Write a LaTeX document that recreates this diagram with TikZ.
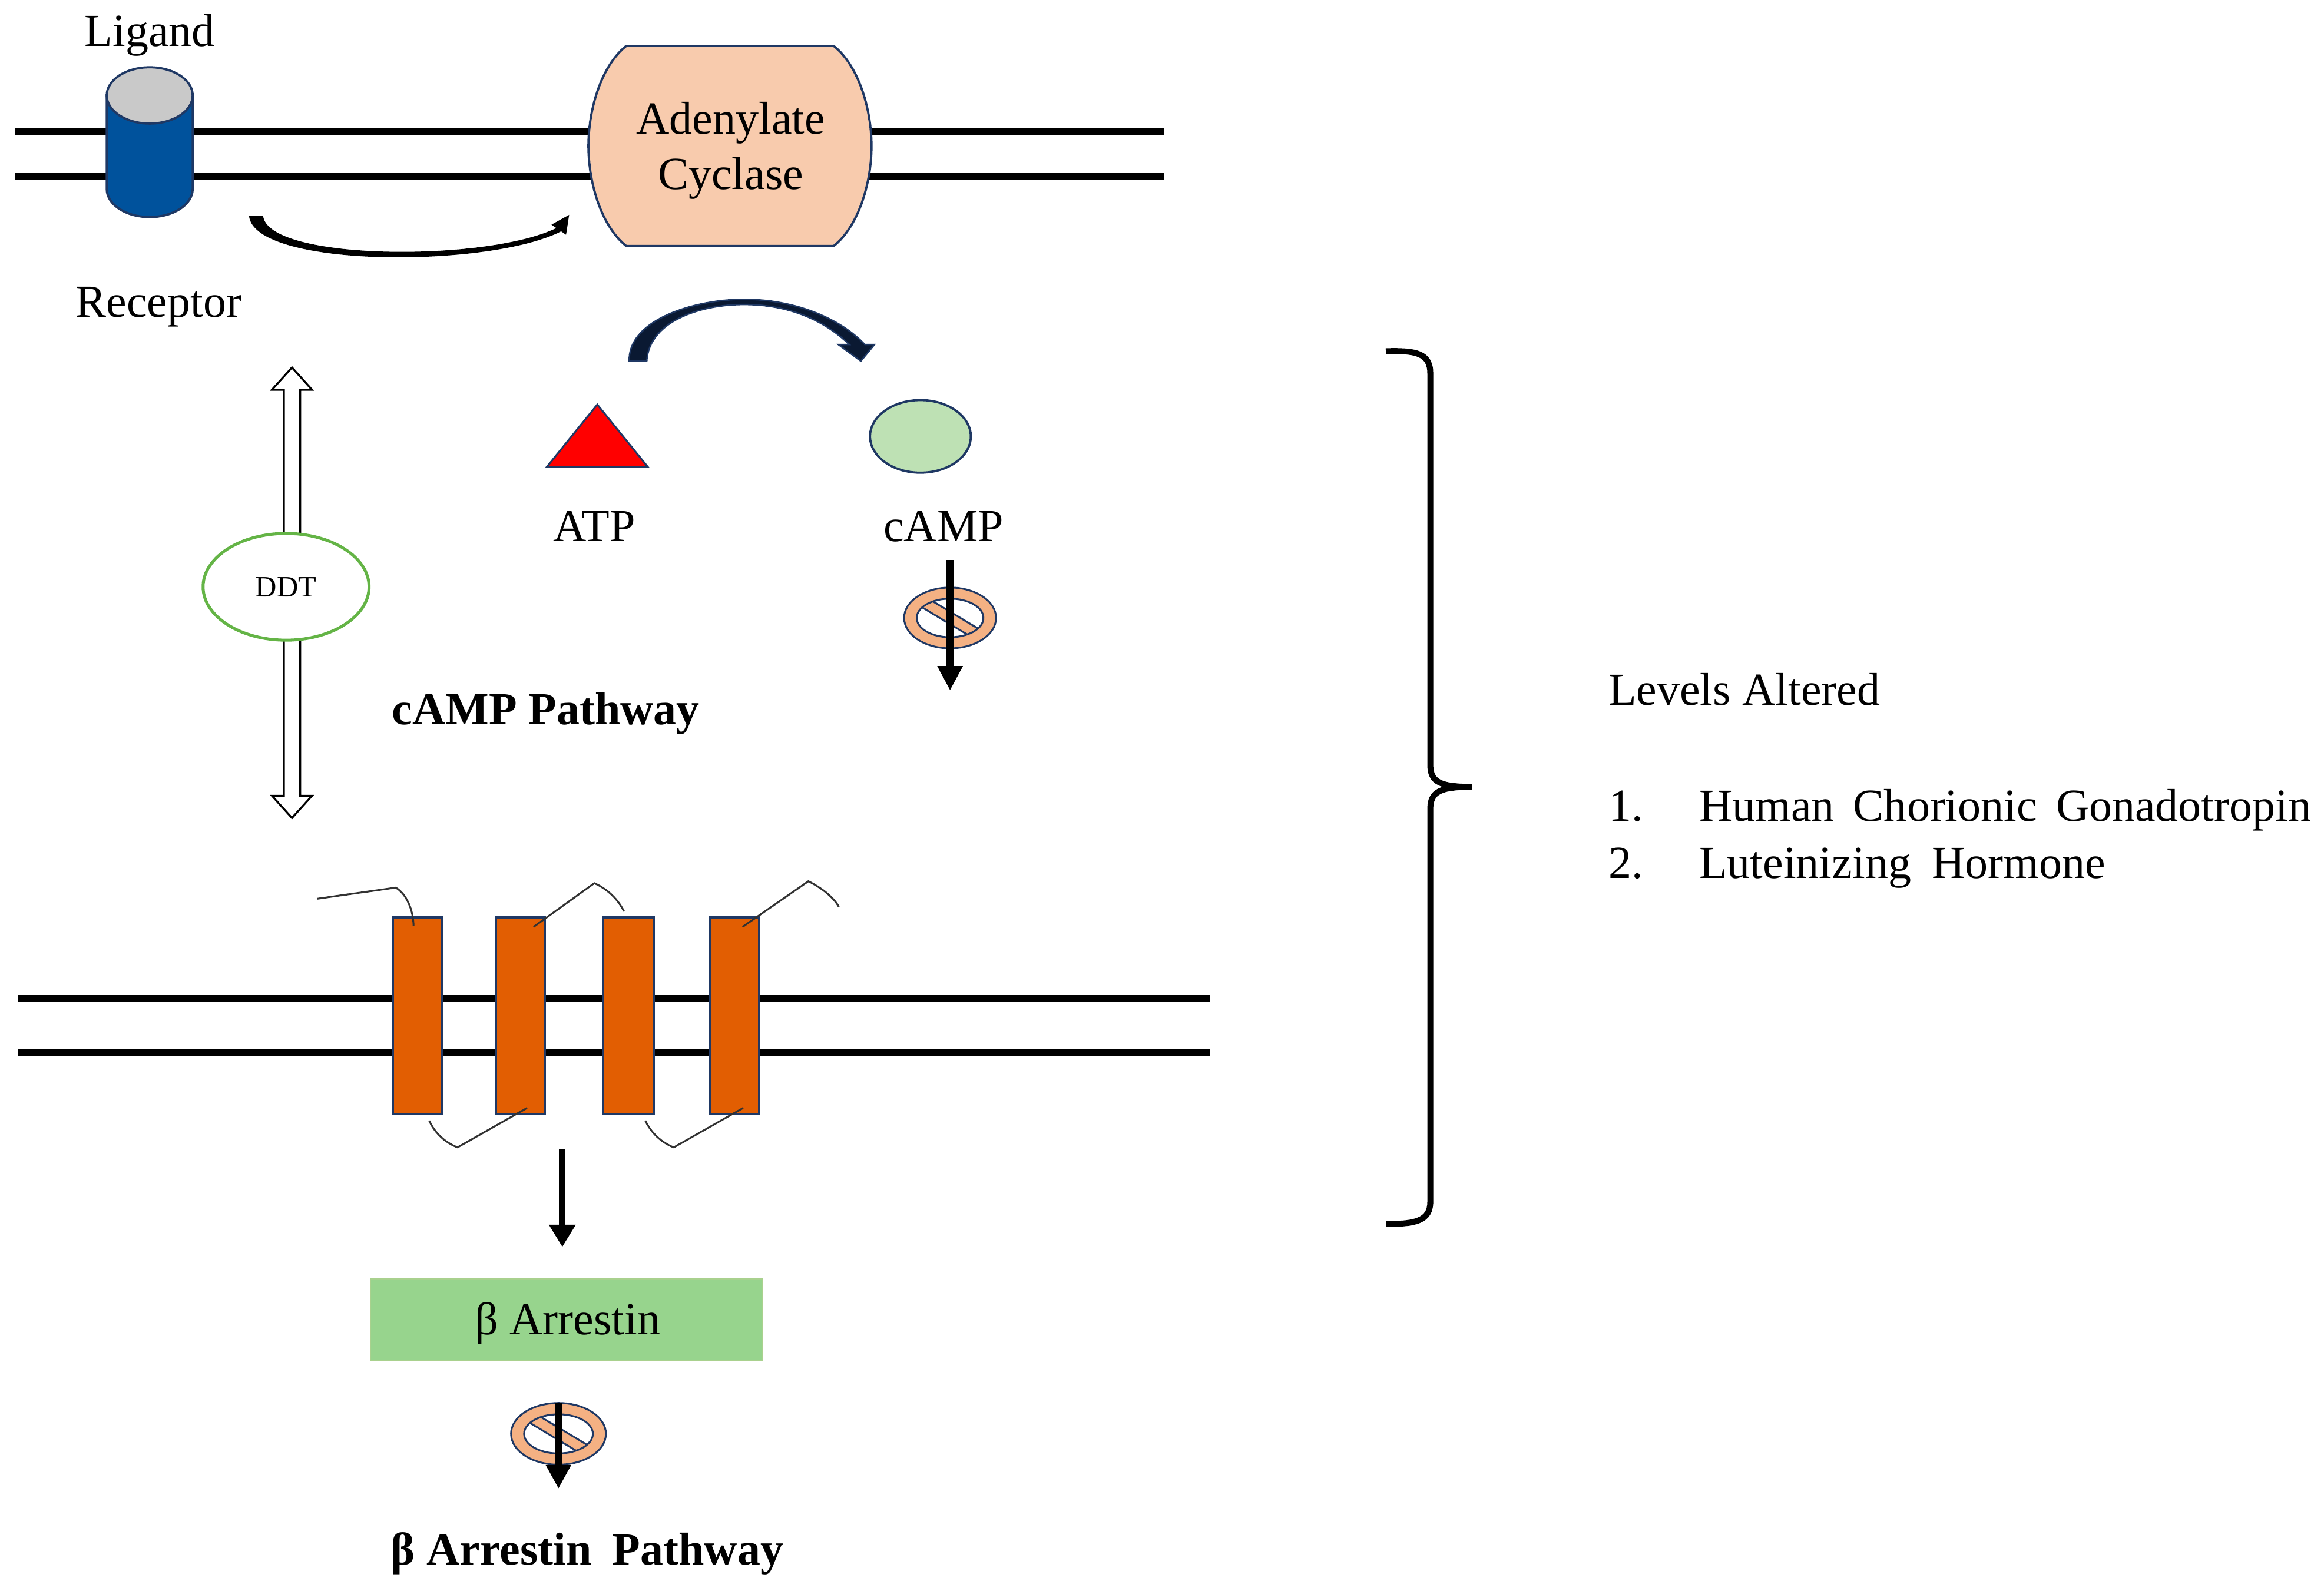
\documentclass[tikz,border=0pt]{standalone}
\usepackage{fontspec}
\setmainfont{Liberation Serif}
\usetikzlibrary{arrows.meta,shapes.geometric}
\definecolor{navy}{RGB}{31,56,100}
\definecolor{recblue}{RGB}{0,82,156}
\definecolor{recgrey}{RGB}{201,201,201}
\definecolor{acpeach}{RGB}{248,203,173}
\definecolor{camp}{RGB}{190,225,180}
\definecolor{ddtgreen}{RGB}{100,180,70}
\definecolor{tmorange}{RGB}{226,94,2}
\definecolor{barr}{RGB}{151,212,141}
\definecolor{barrline}{RGB}{169,209,142}
\definecolor{nopeach}{RGB}{244,177,131}
\definecolor{arrownavy}{RGB}{10,25,50}
\definecolor{loopgrey}{RGB}{50,50,50}

% no-symbol: cx cy rx ry inner-rx inner-ry
\newcommand\nosymb[6]{%
  \fill[nopeach,even odd rule] (#1,#2) ellipse [x radius=#3, y radius=#4] (#1,#2) ellipse [x radius=#5, y radius=#6];
  \begin{scope}
    \clip (#1,#2) ellipse [x radius=#5, y radius=#6];
    \begin{scope}[shift={(#1,#2)}, rotate=-31]
      \filldraw[fill=nopeach, draw=navy, line width=1.2pt] (-45,-3.6) rectangle (45,3.6);
    \end{scope}
  \end{scope}
  \draw[navy, line width=1.2pt] (#1,#2) ellipse [x radius=#3, y radius=#4] (#1,#2) ellipse [x radius=#5, y radius=#6];
}

\begin{document}
\begin{tikzpicture}[x=1pt,y=-1pt,
  lbl/.style={font=\fontsize{31}{37}\selectfont, inner sep=0pt, anchor=base},
  lblw/.style={font=\fontsize{31}{37}\selectfont, inner sep=0pt, anchor=base west},
  boldlbl/.style={font=\fontsize{31}{37}\selectfont\bfseries, inner sep=0pt, anchor=base},
  mem/.style={line width=4.8pt},
  tmbox/.style={rectangle, draw=navy, fill=tmorange, line width=1.5pt, minimum width=33pt, minimum height=133pt, inner sep=0pt},
  loopline/.style={loopgrey, line width=1.2pt},
  downarrow/.style={line width=4.5pt, -{Triangle[length=16pt,width=16pt]}}
]
\useasboundingbox (0,0) rectangle (1568,1073.3);

% ---------- top membrane ----------
\draw[mem] (10,88.5) -- (785,88.5);
\draw[mem] (10,119) -- (785,119);

% receptor cylinder
\filldraw[fill=recblue, draw=navy, line width=1.5pt] (72,64.4) -- (72,127.5) arc[start angle=180, end angle=0, x radius=29, y radius=19] -- (130,64.4) -- cycle;
\filldraw[fill=recgrey, draw=navy, line width=1.5pt] (101,64.4) ellipse [x radius=29, y radius=19];
\coordinate (rec) at (101,96);

\node[lbl] (ligand) at (101,31.2) {Ligand};
\node[lbl] (receptor) at (107,213.9) {Receptor};

% adenylate cyclase
\filldraw[fill=acpeach, draw=navy, line width=1.5pt]
  (422.5,31) -- (562.5,31) .. controls (580,45) and (588,75) .. (588,98.5)
  .. controls (588,122) and (580,152) .. (562.5,166) -- (422.5,166)
  .. controls (405,152) and (397,122) .. (397,98.5)
  .. controls (397,75) and (405,45) .. (422.5,31) -- cycle;
\coordinate (ac) at (492.5,98.5);
\node[lbl] (ac1) at (493,90.5) {Adenylate};
\node[lbl] (ac2) at (493,127.7) {Cyclase};

% receptor -> adenylate cyclase curved arrow
\coordinate (ra1) at (168,145.5);
\coordinate (ra2) at (384,145);
\fill[black] (ra1) .. controls (171,181) and (330,181) .. (378.6,156.1) -- (381.9,158.4) -- (ra2) -- (372.1,151.6) -- (375.4,153.9) .. controls (328,177) and (180,176) .. (177.5,145.5) -- cycle;

% ATP -> cAMP curved arrow
\coordinate (ca1) at (424.5,243.5);
\coordinate (ca2) at (580.8,243.7);
\filldraw[fill=arrownavy, draw=navy, line width=1pt]
  (ca1) .. controls (424,215) and (470,202) .. (502,202)
  .. controls (535,202) and (566,214) .. (583.5,232.5)
  -- (590,232.5) -- (ca2) -- (565.6,232.5) -- (573,232.5)
  .. controls (556,216) and (532,205.5) .. (502,205.5)
  .. controls (472,205.5) and (438,217) .. (436.4,243.5) -- cycle;

% ATP triangle
\filldraw[fill=red, draw=navy, line width=1.2pt] (369,315) -- (437,315) -- (403,273) -- cycle;
\coordinate (atpT) at (403,300);
\node[lbl] (atp) at (401,365.4) {ATP};

% cAMP ellipse
\node[ellipse, draw=navy, fill=camp, line width=1.5pt, minimum width=68pt, minimum height=49pt, inner sep=0pt] (campE) at (621,294.5) {};
\node[lbl] (camp) at (636.6,365.4) {cAMP};

% cAMP downward inhibited arrow
\coordinate (cd1) at (641,378);
\coordinate (cd2) at (641,466);
\nosymb{641}{417}{31}{20.5}{22.5}{13}
\draw[line width=4.5pt, -{Triangle[length=16.5pt,width=16pt]}] (cd1) -- (cd2);

% DDT double hollow arrow
\filldraw[fill=white, draw=black, line width=1.3pt]
  (197,248) -- (210.5,263) -- (202.5,263) -- (202.5,537) -- (210.5,537) -- (197,552)
  -- (183.5,537) -- (191.5,537) -- (191.5,263) -- (183.5,263) -- cycle;
\node[ellipse, draw=ddtgreen, fill=white, line width=2pt, minimum width=112pt, minimum height=72pt, inner sep=0pt, font=\fontsize{20}{24}\selectfont] (ddt) at (193,396) {DDT};

\node[boldlbl] (camppath) at (368.3,488.9) {cAMP Pathway};

% ---------- brace ----------
\coordinate (brTop) at (935,237);
\coordinate (brTip) at (993,531);
\coordinate (brBot) at (935,826);
\draw[line width=4pt] (brTop) .. controls (955,236.5) and (965,238) .. (965,252) -- (965,516)
  .. controls (965,528) and (972,531) .. (brTip)
  .. controls (972,531) and (965,534) .. (965,546) -- (965,811)
  .. controls (965,824) and (955,826) .. (brBot);

% right-hand text
\node[lblw] (levels) at (1085,476) {Levels Altered};
\node[lblw] (n1) at (1085,554.3) {1.};
\node[lblw] (t1) at (1146.3,554.3) {Human\hspace{0.41em}Chorionic\hspace{0.41em}Gonadotropin};
\node[lblw] (n2) at (1085,592.5) {2.};
\node[lblw] (t2) at (1146.3,592.5) {Luteinizing\hspace{0.45em}Hormone};

% ---------- bottom membrane ----------
\draw[mem] (12,674) -- (816,674);
\draw[mem] (12,710) -- (816,710);

\node[tmbox] (tm1) at (281.5,685.5) {};
\node[tmbox] (tm2) at (351.1,685.5) {};
\node[tmbox, minimum width=34pt] (tm3) at (424,685.5) {};
\node[tmbox] (tm4) at (495.5,685.5) {};

% loops
\draw[loopline] (214,606.5) -- (267,599) .. controls (274,603) and (279,614) .. (279,625);
\draw[loopline] (360,625.5) -- (401,596) .. controls (410,600) and (417,607) .. (421,615);
\draw[loopline] (501,625.5) -- (545.4,594.7) .. controls (554,599) and (562,605) .. (566,612);
\draw[loopline] (289.6,756.3) .. controls (293,764) and (300,771) .. (308.7,774.3) -- (355.6,747.7);
\draw[loopline] (435.4,756.3) .. controls (439,764) and (446,771) .. (454.6,774.3) -- (501.4,747.7);

% arrow to beta arrestin
\coordinate (ba1) at (379.4,775.5);
\coordinate (ba2) at (379.4,841.5);
\draw[line width=4.5pt, -{Triangle[length=15pt,width=17pt]}] (ba1) -- (ba2);

\node[rectangle, draw=barrline, fill=barr, line width=1pt, minimum width=264.6pt, minimum height=55pt, inner sep=0pt] (barrbox) at (382.3,890.4) {};
\node[lbl] (barrT) at (383,900.8) {β Arrestin};

% beta arrestin inhibited arrow
\coordinate (bd1) at (376.8,947);
\coordinate (bd2) at (376.8,1004.6);
\nosymb{376.8}{967.6}{32}{20.8}{23.2}{13.2}
\draw[downarrow] (bd1) -- (bd2);

\node[boldlbl] (barrpath) at (396.2,1055.8) {β Arrestin\hspace{0.45em}Pathway};
\end{tikzpicture}
\end{document}
